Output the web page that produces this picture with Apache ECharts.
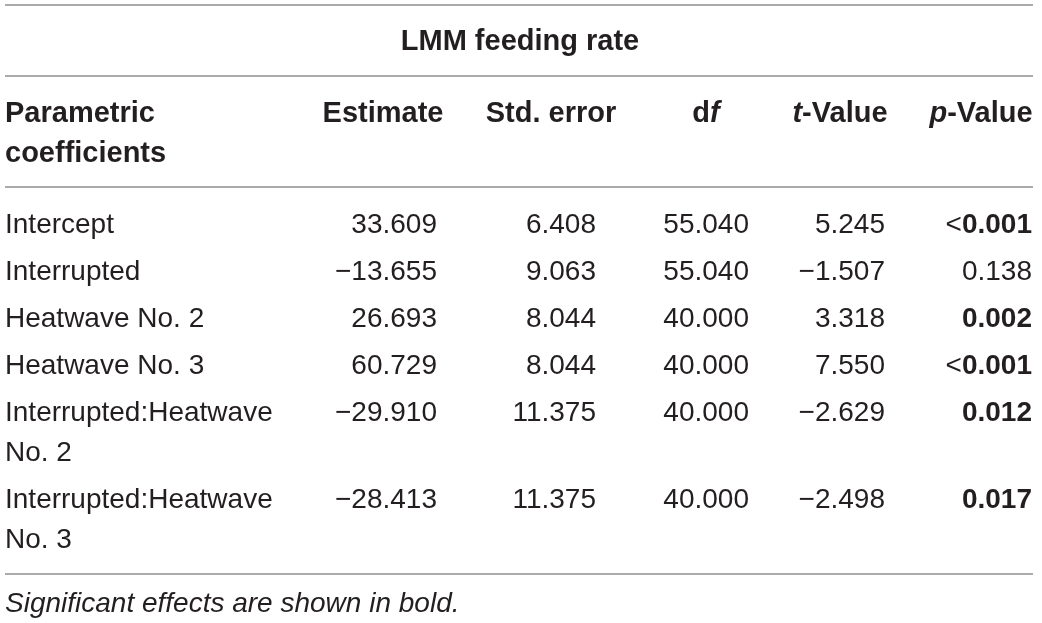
<!DOCTYPE html>
<html>
<head>
<meta charset="utf-8">
<script src="https://cdn.jsdelivr.net/npm/echarts@6/dist/echarts.min.js"></script>
<style>
html,body{margin:0;padding:0;background:#fff}
#main{width:1042px;height:623px}
</style>
</head>
<body>
<div id="main"></div>
<script>
// table content
var title = 'LMM feeding rate';
var headers = ['Parametric\ncoefficients', 'Estimate', 'Std. error', 'd{i|f}', '{i|t}-Value', '{i|p}-Value'];
var terms = ['Intercept', 'Interrupted', 'Heatwave No. 2', 'Heatwave No. 3', 'Interrupted:Heatwave\nNo. 2', 'Interrupted:Heatwave\nNo. 3'];
var estimate = [33.609, -13.655, 26.693, 60.729, -29.910, -28.413];
var stdError = [6.408, 9.063, 8.044, 8.044, 11.375, 11.375];
var dfValue = [55.040, 55.040, 40.000, 40.000, 40.000, 40.000];
var tValue = [5.245, -1.507, 3.318, 7.550, -2.629, -2.498];
var pValue = ['<0.001', '0.138', '0.002', '<0.001', '0.012', '0.017'];
var significant = [true, false, true, true, true, true];
var footnote = 'Significant effects are shown in bold.';

// layout (pixels)
var W = 1042, H = 623;
var ruleY = [5, 76, 187, 574];
var headCenter = [0, 383, 551, 706, 840, 981];
var valueRight = [437, 596, 749, 885, 1032];
var lineH = 40, rowGap = 47, nudge = 2;
var FONT = '"Liberation Sans", Arial, sans-serif';

function fmt(v) {
	return (v < 0 ? '\u2212' : '') + Math.abs(v).toFixed(3);
}

var cells = [];
cells.push({x: 520, y: 40, text: title, align: 'center', weight: 'bold'});
headers.forEach(function (h, i) {
	cells.push({x: i == 0 ? 5 : headCenter[i], y: 112, text: h, align: i == 0 ? 'left' : 'center', weight: 'bold'});
});
var y = 223;
terms.forEach(function (t, r) {
	var cols = [fmt(estimate[r]), fmt(stdError[r]), fmt(dfValue[r]), fmt(tValue[r])];
	cells.push({x: 5, y: y, text: t, align: 'left', weight: 'normal'});
	cols.forEach(function (c, k) {
		cells.push({x: valueRight[k], y: y, text: c, align: 'right', weight: 'normal'});
	});
	var p = pValue[r];
	if (significant[r]) {
		p = p.charAt(0) == '<' ? '<{b|' + p.slice(1) + '}' : '{b|' + p + '}';
	}
	cells.push({x: valueRight[4], y: y, text: p, align: 'right', weight: 'normal'});
	y += rowGap + lineH * (t.split('\n').length - 1);
});
cells.push({x: 5, y: 602, text: footnote, align: 'left', weight: 'normal', style: 'italic'});

var myChart = echarts.init(document.getElementById('main'));
var option = {
	animation: false,
	backgroundColor: '#fff',
	grid: {left: 0, right: 0, top: 0, bottom: 0},
	xAxis: {type: 'value', min: 0, max: W, show: false},
	yAxis: {type: 'value', min: 0, max: H, inverse: true, show: false},
	series: [
		{
			type: 'custom',
			silent: true,
			data: ruleY.map(function (v) { return [5, v, 1033]; }),
			renderItem: function (params, api) {
				var a = api.coord([api.value(0), api.value(1)]);
				var b = api.coord([api.value(2), api.value(1)]);
				return {
					type: 'line',
					shape: {x1: a[0], y1: a[1], x2: b[0], y2: b[1]},
					style: {stroke: '#8f8f8f', lineWidth: 1.5}
				};
			}
		},
		{
			type: 'custom',
			silent: true,
			data: cells.map(function (c) { return [c.x, c.y]; }),
			renderItem: function (params, api) {
				var c = cells[params.dataIndex];
				var pt = api.coord([api.value(0), api.value(1)]);
				var size = c.weight == 'bold' ? 29 : 28;
				return {
					type: 'text',
					x: pt[0],
					y: pt[1] - lineH / 2 + nudge,
					style: {
						text: c.text,
						fill: '#231f20',
						fontFamily: FONT,
						fontSize: size,
						fontWeight: c.weight,
						fontStyle: c.style || 'normal',
						align: c.align,
						verticalAlign: 'top',
						lineHeight: lineH,
						rich: {
							b: {fontWeight: 'bold', fontSize: 28, fill: '#231f20', lineHeight: lineH, fontFamily: FONT},
							i: {fontWeight: 'bold', fontStyle: 'italic', fontSize: size, fill: '#231f20', lineHeight: lineH, fontFamily: FONT}
						}
					}
				};
			}
		}
	]
};
myChart.setOption(option);
</script>
</body>
</html>
